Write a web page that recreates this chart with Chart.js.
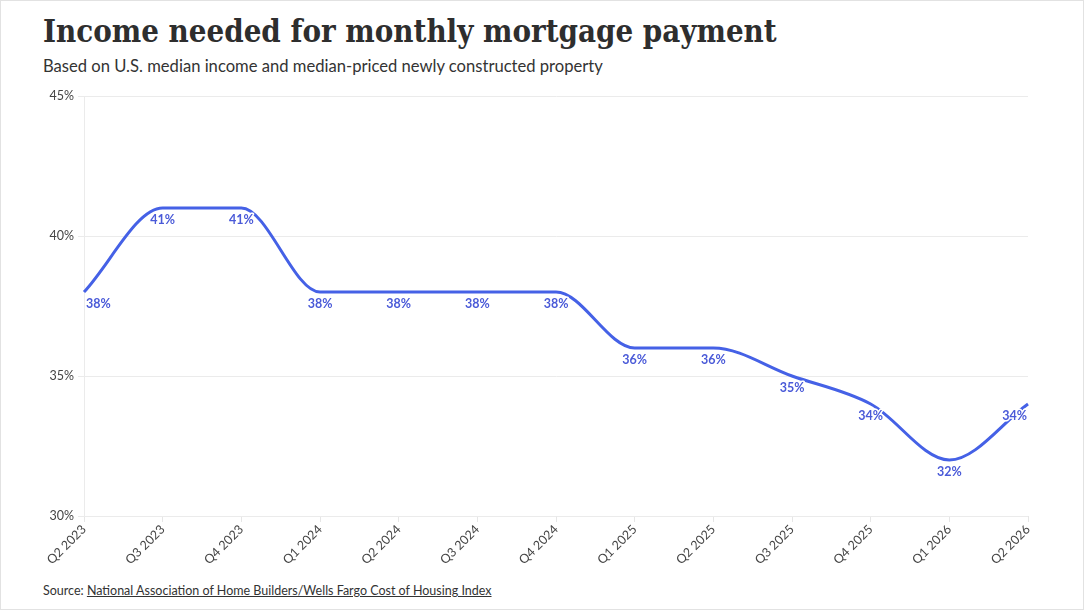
<!DOCTYPE html>
<html>
<head>
<meta charset="utf-8">
<script src="https://cdn.jsdelivr.net/npm/chart.js@4"></script>
<style>
  html, body { margin: 0; padding: 0; background: #fff; }
  #wrap { position: relative; width: 1084px; height: 610px; box-sizing: border-box; border: 1px solid #e2e2e2; overflow: hidden; }
  #title { position: absolute; left: 42px; top: 12px; margin: 0; font-family: "DejaVu Serif Condensed", "DejaVu Serif", serif; font-stretch: condensed; font-weight: bold; font-size: 30px; line-height: 1; color: #2e2e2e; white-space: nowrap; }
  #subtitle { position: absolute; left: 42px; top: 55px; margin: 0; font-family: Lato, sans-serif; font-size: 16.6px; color: #333; white-space: nowrap; }
  #source { position: absolute; left: 42px; top: 582px; font-family: Lato, sans-serif; font-size: 12.5px; color: #333; white-space: nowrap; }
  #source a { color: #333; text-decoration: underline; }
  #cv { position: absolute; left: 0; top: 0; }
</style>
</head>
<body>
<div id="wrap">
  <h1 id="title">Income needed for monthly mortgage payment</h1>
  <p id="subtitle">Based on U.S. median income and median-priced newly constructed property</p>
  <div id="source">Source: <a href="#">National Association of Home Builders/Wells Fargo Cost of Housing Index</a></div>
  <canvas id="cv" width="1084" height="610"></canvas>
</div>
<script>
const categories = ["Q2 2023","Q3 2023","Q4 2023","Q1 2024","Q2 2024","Q3 2024","Q4 2024","Q1 2025","Q2 2025","Q3 2025","Q4 2025","Q1 2026","Q2 2026"];
const incomeShare = [38, 41, 41, 38, 38, 38, 38, 36, 36, 35, 34, 32, 34];
const yTicks = [30, 35, 40, 45];

// fit title width to reference
(function(){
  const t = document.getElementById('title');
  const target = 734;
  const w = t.getBoundingClientRect().width;
  const fs = 30 * target / w;
  t.style.fontSize = fs.toFixed(2) + 'px';
  t.style.top = (41 - 0.846 * fs).toFixed(1) + 'px';
})();

const labelPlugin = {
  id: 'pointLabels',
  afterDatasetsDraw(chart) {
    const ctx = chart.ctx;
    const meta = chart.getDatasetMeta(0);
    const area = chart.chartArea;
    ctx.save();
    ctx.font = 'bold 12.5px Lato, sans-serif';
    ctx.textBaseline = 'middle';
    ctx.textAlign = 'left';
    ctx.lineJoin = 'round';
    meta.data.forEach((pt, i) => {
      const txt = chart.data.datasets[0].data[i] + '%';
      const w = ctx.measureText(txt).width;
      let x = pt.x - w / 2;
      if (x < area.left + 2) x = area.left + 2;
      if (x + w > area.right - 1) x = area.right - 1 - w;
      const y = pt.y + 12;
      ctx.strokeStyle = '#fff';
      ctx.lineWidth = 3;
      ctx.strokeText(txt, x, y);
      ctx.fillStyle = '#4a5ad8';
      ctx.fillText(txt, x, y);
    });
    ctx.restore();
  }
};

new Chart(document.getElementById('cv'), {
  type: 'line',
  data: {
    labels: categories,
    datasets: [{
      data: incomeShare,
      borderColor: '#4561e6',
      borderWidth: 3,
      pointRadius: 0,
      pointHoverRadius: 0,
      fill: false,
      cubicInterpolationMode: 'monotone'
    }]
  },
  options: {
    responsive: false,
    animation: false,
    devicePixelRatio: 1,
    layout: { padding: { left: 0, top: 95, right: 57, bottom: 0 } },
    plugins: { legend: { display: false }, tooltip: { enabled: false } },
    scales: {
      x: {
        offset: false,
        grid: { display: true, drawOnChartArea: false, drawTicks: true, tickLength: 6, color: '#e6e6e6' },
        border: { display: false },
        ticks: {
          minRotation: 45, maxRotation: 45, autoSkip: false,
          color: '#444', font: { family: 'Lato', size: 12.5 }, padding: 0
        },
        afterFit(scale) { scale.height = 95; }
      },
      y: {
        min: 30, max: 45,
        afterBuildTicks(scale) { scale.ticks = yTicks.map(v => ({ value: v })); },
        grid: { color: '#ebebeb', tickLength: 6, drawTicks: true },
        border: { display: true, color: '#ebebeb' },
        ticks: {
          color: '#444', font: { family: 'Lato', size: 12.5 }, padding: 4,
          callback: v => v + '%'
        },
        afterFit(scale) { scale.width = 83; }
      }
    }
  },
  plugins: [labelPlugin]
});
</script>
</body>
</html>
